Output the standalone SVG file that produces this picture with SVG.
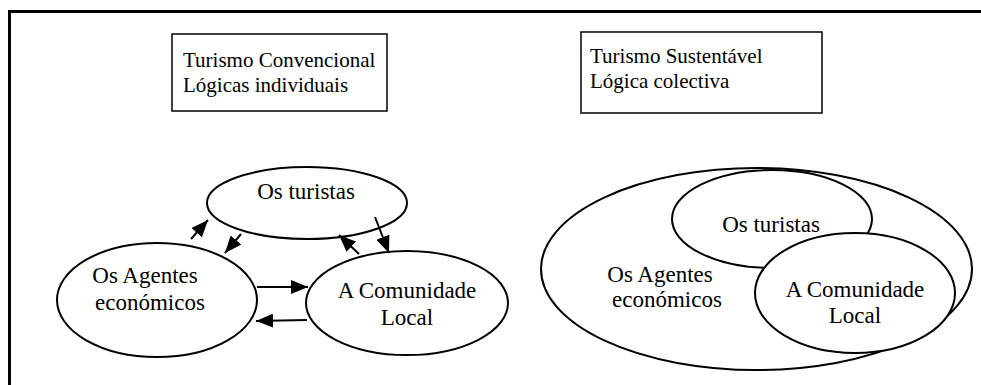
<svg xmlns="http://www.w3.org/2000/svg" width="981" height="385" viewBox="0 0 981 385">
<defs>
<style>
.frame{fill:none;stroke:#000;stroke-width:3}
.box{fill:#fff;stroke:#111;stroke-width:1.6}
.ell{fill:#fff;stroke:#000;stroke-width:2}
text{font-family:"Liberation Serif","DejaVu Serif",serif;fill:#000}
.bt{font-size:21px}
.et{font-size:23px}
.c{text-anchor:middle}
.con{stroke:#000;stroke-width:2;fill:none;marker-end:url(#ah)}
</style>
<marker id="ah" viewBox="0 0 10 10" refX="10" refY="5" markerWidth="17" markerHeight="14" markerUnits="userSpaceOnUse" orient="auto" preserveAspectRatio="none">
<path d="M0,0 L10,5 L0,10 Z" fill="#000"/>
</marker>
</defs>
<rect width="981" height="385" fill="#fff"/>
<path class="frame" d="M9.5,385 V11.5 H981"/>

<g id="box-convencional">
<rect class="box" x="172" y="34" width="215" height="77"/>
<text class="bt" x="183" y="67" font-family="Liberation Serif, serif">Turismo Convencional</text>
<text class="bt" x="183" y="92" font-family="Liberation Serif, serif">Lógicas individuais</text>
</g>

<g id="box-sustentavel">
<rect class="box" x="581" y="32" width="241" height="81"/>
<text class="bt" x="590" y="63" font-family="Liberation Serif, serif">Turismo Sustentável</text>
<text class="bt" x="590" y="88" font-family="Liberation Serif, serif">Lógica colectiva</text>
</g>

<g id="left-turistas">
<ellipse class="ell" cx="307" cy="203" rx="100" ry="36"/>
<text class="et c" x="306" y="199" font-family="Liberation Serif, serif">Os turistas</text>
</g>
<g id="left-agentes">
<ellipse class="ell" cx="157" cy="300" rx="100" ry="57"/>
<text class="et c" x="145" y="283" font-family="Liberation Serif, serif">Os Agentes</text>
<text class="et c" x="150" y="310" font-family="Liberation Serif, serif">económicos</text>
</g>
<g id="left-comunidade">
<ellipse class="ell" cx="407" cy="303" rx="101" ry="52"/>
<text class="et c" x="407" y="298" font-family="Liberation Serif, serif">A Comunidade</text>
<text class="et c" x="407" y="325" font-family="Liberation Serif, serif">Local</text>
</g>

<g id="connectors">
<line class="con" x1="191" y1="239" x2="208" y2="220"/>
<line class="con" x1="241" y1="234" x2="225" y2="253"/>
<line class="con" x1="375" y1="217" x2="389" y2="253"/>
<line class="con" x1="359" y1="254" x2="339" y2="235"/>
<line class="con" x1="257" y1="287" x2="308" y2="287"/>
<line class="con" x1="307" y1="320" x2="256" y2="321"/>
</g>

<g id="right-agentes">
<ellipse class="ell" cx="756.5" cy="269" rx="215.5" ry="101"/>
<text class="et c" x="660" y="282" font-family="Liberation Serif, serif">Os Agentes</text>
<text class="et c" x="667" y="307" font-family="Liberation Serif, serif">económicos</text>
</g>
<g id="right-turistas">
<ellipse class="ell" cx="772" cy="219" rx="100" ry="49"/>
<text class="et c" x="771" y="232" font-family="Liberation Serif, serif">Os turistas</text>
</g>
<g id="right-comunidade">
<ellipse class="ell" cx="855" cy="293" rx="100" ry="60"/>
<text class="et c" x="855" y="297" font-family="Liberation Serif, serif">A Comunidade</text>
<text class="et c" x="855" y="323" font-family="Liberation Serif, serif">Local</text>
</g>
</svg>
